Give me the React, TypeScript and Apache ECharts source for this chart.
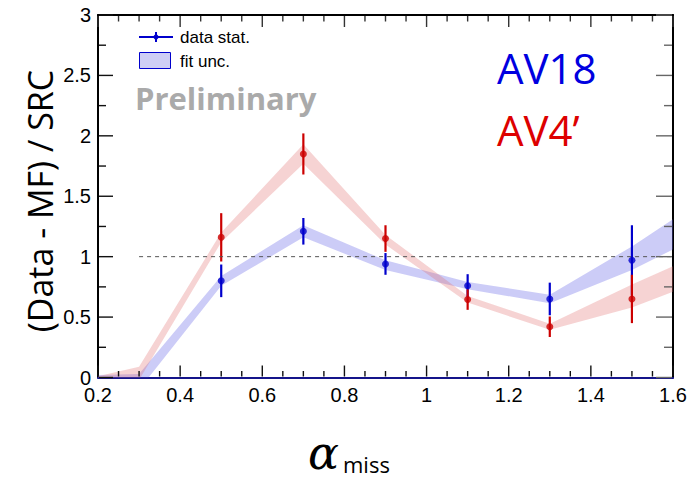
import React, { useEffect, useRef } from "react";
import * as echarts from "echarts";

// Bin centres of the measured points
const binX = [0.5, 0.7, 0.9, 1.1, 1.3, 1.5];

// AV18: ratio values and statistical errors
const av18Val = [0.8, 1.21, 0.94, 0.76, 0.65, 0.97];
const av18Err = [0.135, 0.11, 0.09, 0.095, 0.135, 0.29];

// AV4': ratio values and statistical errors
const av4Val = [1.16, 1.85, 1.15, 0.645, 0.42, 0.65];
const av4Err = [0.2, 0.17, 0.11, 0.085, 0.085, 0.2];

// Fit uncertainty bands (lower / upper edge)
const bandX = [0.2, 0.3, 0.5, 0.7, 0.9, 1.1, 1.3, 1.5, 1.6];
const av18Lo = [-0.04, -0.1, 0.76, 1.16, 0.89, 0.73, 0.615, 0.89, 1.06];
const av18Hi = [0.02, 0.03, 0.84, 1.26, 0.97, 0.79, 0.685, 1.085, 1.31];
const av4Lo = [-0.01, -0.02, 1.12, 1.77, 1.1, 0.62, 0.395, 0.58, 0.71];
const av4Hi = [0.01, 0.09, 1.2, 1.93, 1.18, 0.675, 0.445, 0.77, 0.92];

// Reference line at ratio = 1
const refX = [0.3, 1.6];
const refY = [1, 1];

// Frame tick positions (ticks point into the plot on all four sides)
const xMajorTicks = [0.2, 0.4, 0.6, 0.8, 1.0, 1.2, 1.4, 1.6];
const xMinorTicks = [
  0.25, 0.3, 0.35, 0.45, 0.5, 0.55, 0.65, 0.7, 0.75, 0.85, 0.9, 0.95,
  1.05, 1.1, 1.15, 1.25, 1.3, 1.35, 1.45, 1.5, 1.55,
];
const yMajorTicks = [0, 0.5, 1, 1.5, 2, 2.5, 3];
const yMinorTicks = [0.25, 0.75, 1.25, 1.75, 2.25, 2.75];

const X_MIN = 0.2;
const X_MAX = 1.6;
const Y_MIN = 0;
const Y_MAX = 3;

const BLUE = "#0000cc";
const RED = "#cc0000";

const bandSeries = (name: string, lo: number[], hi: number[], fill: string) => ({
  type: "custom",
  name,
  clip: true,
  data: bandX.map((x, i) => [x, lo[i], hi[i]]),
  encode: { x: 0, y: [1, 2] },
  renderItem: (params: any, api: any) => {
    if (params.dataIndex !== 0) return null;
    const upper = bandX.map((x, i) => api.coord([x, hi[i]]));
    const lower = bandX.map((x, i) => api.coord([x, lo[i]])).reverse();
    return {
      type: "polygon",
      shape: { points: [...upper, ...lower] },
      style: { fill },
    };
  },
});

const errorBarSeries = (name: string, vals: number[], errs: number[], color: string) => ({
  type: "custom",
  name,
  data: binX.map((x, i) => [x, vals[i], errs[i]]),
  encode: { x: 0, y: 1 },
  renderItem: (_params: any, api: any) => {
    const x = api.value(0);
    const v = api.value(1);
    const e = api.value(2);
    const top = api.coord([x, v + e]);
    const bot = api.coord([x, v - e]);
    return {
      type: "line",
      shape: { x1: top[0], y1: top[1], x2: bot[0], y2: bot[1] },
      style: { stroke: color, lineWidth: 2.2 },
    };
  },
});

const pointSeries = (name: string, vals: number[], color: string) => ({
  type: "scatter",
  name,
  symbol: "circle",
  symbolSize: 7,
  itemStyle: { color },
  data: binX.map((x, i) => [x, vals[i]]),
});

const frameAxis = {
  axisLine: { show: true, onZero: false, lineStyle: { color: "#000", width: 2 } },
  axisTick: { show: false },
  minorTick: { show: false },
  splitLine: { show: false },
  minorSplitLine: { show: false },
};

const baseGraphics: any[] = [
  // legend: data stat.
  { type: "line", shape: { x1: 139, y1: 37, x2: 173, y2: 37 }, style: { stroke: BLUE, lineWidth: 2 } },
  { type: "line", shape: { x1: 156, y1: 32, x2: 156, y2: 42 }, style: { stroke: BLUE, lineWidth: 2 } },
  { type: "circle", shape: { cx: 156, cy: 37, r: 2.5 }, style: { fill: BLUE } },
  {
    type: "text",
    x: 180,
    y: 37,
    style: { text: "data stat.", fontFamily: "Liberation Sans", fontSize: 17, fill: "#000", verticalAlign: "middle" },
  },
  // legend: fit unc.
  {
    type: "rect",
    shape: { x: 139.5, y: 52.5, width: 31, height: 16 },
    style: { fill: "rgba(160,160,235,0.5)", stroke: BLUE, lineWidth: 1 },
  },
  {
    type: "text",
    x: 180,
    y: 61,
    style: { text: "fit unc.", fontFamily: "Liberation Sans", fontSize: 17, fill: "#000", verticalAlign: "middle" },
  },
  {
    type: "text",
    x: 135,
    y: 98,
    style: {
      text: "Preliminary",
      fontFamily: "Open Sans",
      fontWeight: "bold",
      fontSize: 31,
      fill: "#aaaaaa",
      verticalAlign: "middle",
    },
  },
  {
    type: "text",
    x: 497,
    y: 67,
    style: { text: "AV18", fontFamily: "Open Sans", fontSize: 42, fill: "#0000e0", verticalAlign: "middle" },
  },
  {
    type: "text",
    x: 497,
    y: 129,
    style: { text: "AV4\u2019", fontFamily: "Open Sans", fontSize: 42, fill: "#dd0000", verticalAlign: "middle" },
  },
  // y-axis title
  {
    type: "text",
    x: 40,
    y: 201,
    rotation: Math.PI / 2,
    style: {
      text: "(Data - MF) / SRC",
      fontFamily: "Open Sans",
      fontSize: 34,
      fill: "#000",
      align: "center",
      verticalAlign: "middle",
    },
  },
  // x-axis title
  {
    type: "text",
    x: 308,
    y: 453,
    style: {
      text: "\u03b1",
      fontFamily: "DejaVu Serif",
      fontStyle: "italic",
      fontSize: 46,
      fill: "#000",
      verticalAlign: "middle",
    },
  },
  {
    type: "text",
    x: 343,
    y: 463.5,
    style: { text: "miss", fontFamily: "Open Sans", fontSize: 22, fill: "#000", verticalAlign: "middle" },
  },
];

export default function App() {
  const ref = useRef<HTMLDivElement>(null);

  useEffect(() => {
    if (!ref.current) return;
    const chart = echarts.init(ref.current, undefined, { renderer: "svg" });
    const labelFont = { fontFamily: "Liberation Sans", fontSize: 20, color: "#000" };

    chart.setOption({
      animation: false,
      backgroundColor: "#fff",
      grid: { left: 98, right: 18, top: 15, bottom: 102.5, containLabel: false },
      xAxis: [
        {
          type: "value",
          position: "bottom",
          min: X_MIN,
          max: X_MAX,
          interval: 0.2,
          ...frameAxis,
          axisLine: { show: true, onZero: false, lineStyle: { color: "#14148a", width: 2 } },
          axisLabel: { ...labelFont, margin: 7 },
        },
        {
          type: "value",
          position: "top",
          min: X_MIN,
          max: X_MAX,
          interval: 0.2,
          ...frameAxis,
          axisLabel: { show: false },
        },
      ],
      yAxis: [
        {
          type: "value",
          position: "left",
          min: Y_MIN,
          max: Y_MAX,
          interval: 0.5,
          ...frameAxis,
          axisLabel: { ...labelFont, margin: 7 },
        },
        {
          type: "value",
          position: "right",
          min: Y_MIN,
          max: Y_MAX,
          interval: 0.5,
          ...frameAxis,
          axisLabel: { show: false },
        },
      ],
      series: [
        bandSeries("AV18 fit unc.", av18Lo, av18Hi, "rgba(100,100,230,0.33)"),
        bandSeries("AV4' fit unc.", av4Lo, av4Hi, "rgba(225,110,110,0.3)"),
        {
          type: "line",
          name: "unity",
          data: refX.map((x, i) => [x, refY[i]]),
          symbol: "none",
          silent: true,
          lineStyle: { color: "#555", width: 1, type: [4, 4] },
        },
        errorBarSeries("AV18 stat.", av18Val, av18Err, BLUE),
        pointSeries("AV18", av18Val, BLUE),
        errorBarSeries("AV4' stat.", av4Val, av4Err, RED),
        pointSeries("AV4'", av4Val, RED),
      ],
      graphic: baseGraphics,
    });

    // Inward frame ticks, placed through each axis's own scale conversion
    const xPx = (v: number) => chart.convertToPixel({ xAxisIndex: 0 }, v) as unknown as number;
    const yPx = (v: number) => chart.convertToPixel({ yAxisIndex: 0 }, v) as unknown as number;
    const xLeft = xPx(X_MIN);
    const xRight = xPx(X_MAX);
    const yBottom = yPx(Y_MIN);
    const yTop = yPx(Y_MAX);

    if ([xLeft, xRight, yBottom, yTop].every((n) => typeof n === "number" && isFinite(n))) {
      const ticks: any[] = [];
      const seg = (x1: number, y1: number, x2: number, y2: number, color: string) =>
        ticks.push({
          type: "line",
          silent: true,
          z: 50,
          shape: { x1, y1, x2, y2 },
          style: { stroke: color, lineWidth: 1.4 },
        });
      const xTicks = (vals: number[], len: number) =>
        vals.forEach((v) => {
          const px = xPx(v);
          seg(px, yBottom - 1, px, yBottom - 1 - len, "#111");
          seg(px, yTop + 1, px, yTop + 1 + len, "#333");
        });
      const yTicks = (vals: number[], lenL: number, lenR: number) =>
        vals.forEach((v) => {
          const py = yPx(v);
          seg(xLeft + 1, py, xLeft + 1 + lenL, py, "#111");
          seg(xRight - 1, py, xRight - 1 - lenR, py, "#666");
        });
      xTicks(xMajorTicks, 11);
      xTicks(xMinorTicks, 5.5);
      yTicks(yMajorTicks, 14, 16);
      yTicks(yMinorTicks, 7, 8);
      chart.setOption({ graphic: [...baseGraphics, ...ticks] });
    }

    return () => chart.dispose();
  }, []);

  return <div ref={ref} style={{ width: 691, height: 480, position: "absolute", left: 0, top: 0 }} />;
}
